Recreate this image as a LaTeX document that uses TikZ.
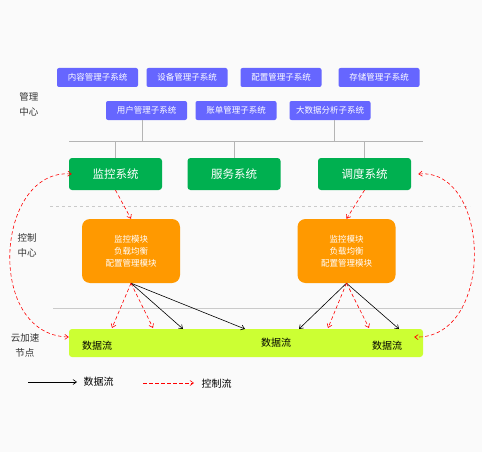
\documentclass[tikz,border=0pt]{standalone}
\usepackage{fontspec}
\setmainfont{Noto Sans CJK SC}
\usepackage{xcolor}
\usetikzlibrary{arrows.meta}
\definecolor{subblue}{HTML}{6666FF}
\definecolor{sysgreen}{HTML}{00B050}
\definecolor{modorange}{HTML}{FF9900}
\definecolor{nodelime}{HTML}{CCFF33}
\definecolor{bggray}{HTML}{FAFAFA}
\definecolor{linegray}{HTML}{B4B4B4}
\definecolor{labelgray}{HTML}{333333}

\begin{document}
\begin{tikzpicture}[x=1pt,y=-1pt,
    >={Straight Barb[length=3.5pt,width=5pt]},
    sub/.style={fill=subblue,text=white,rounded corners=2pt,minimum width=81pt,minimum height=19pt,inner sep=0pt,font=\fontsize{8.5}{9}\selectfont},
    sys/.style={fill=sysgreen,text=white,rounded corners=3pt,minimum width=93pt,minimum height=32pt,inner sep=0pt,font=\fontsize{11.5}{12}\selectfont},
    modbox/.style={fill=modorange,text=white,rounded corners=8pt,minimum width=98pt,minimum height=64pt,inner sep=0pt,align=center,font=\fontsize{8.5}{12}\selectfont},
    side/.style={text=labelgray,align=center,font=\fontsize{9.5}{15}\selectfont},
    ctrl/.style={red,dashed,dash pattern=on 3.5pt off 2.5pt,line width=0.6pt,->},
    data/.style={black,line width=0.6pt,->}]
    \useasboundingbox (0,0) rectangle (482,452);
    \fill[bggray] (0,0) rectangle (482,452);

    % management center
    \node[sub] (s1) at (97.5,77.5) {内容管理子系统};
    \node[sub] (s2) at (187,77.5) {设备管理子系统};
    \node[sub] (s3) at (281,77.5) {配置管理子系统};
    \node[sub] (s4) at (379,77.5) {存储管理子系统};
    \node[sub] (s5) at (146.5,110.5) {用户管理子系统};
    \node[sub] (s6) at (236,110.5) {账单管理子系统};
    \node[sub] (s7) at (330,110.5) {大数据分析子系统};
    \node[side] (lbm) at (29,104) {管理\\中心};

    \node[sys] (sysA) at (115.5,174) {监控系统};
    \node[sys] (sysB) at (234,174) {服务系统};
    \node[sys] (sysC) at (364.5,174) {调度系统};

    \coordinate (busL) at (69,141);
    \coordinate (busR) at (423,141);
    \draw[linegray,line width=0.8pt] (busL) -- (busR);
    \draw[linegray,line width=0.8pt] ([xshift=-4pt]s5.south) -- ([xshift=-4pt]s5.south |- busL);
    \draw[linegray,line width=0.8pt] ([xshift=4pt]s7.south) -- ([xshift=4pt]s7.south |- busL);
    \draw[linegray,line width=0.8pt] (sysA.north |- busL) -- (sysA.north);
    \draw[linegray,line width=0.8pt] (sysB.north |- busL) -- (sysB.north);
    \draw[linegray,line width=0.8pt] (sysC.north |- busL) -- (sysC.north);

    % separators
    \draw[linegray!70,dashed,line width=0.6pt] (50,206) -- (470,206);
    \draw[linegray!70,line width=0.6pt] (53,308) -- (463,308);

    % control center
    \node[side] (lbc) at (27,245.5) {控制\\中心};
    \node[modbox] (modA) at (131,251) {监控模块\\负载均衡\\配置管理模块};
    \node[modbox] (modB) at (346.5,251) {监控模块\\负载均衡\\配置管理模块};

    % cloud nodes
    \node[side] (lbn) at (25,345) {云加速\\节点};
    \node[fill=nodelime,rounded corners=3pt,minimum width=354pt,minimum height=28pt,inner sep=0pt] (bar) at (246,343) {};
    \node[font=\fontsize{10}{12}\selectfont] (f1) at (97,346) {数据流};
    \node[font=\fontsize{10}{12}\selectfont] (f2) at (276,343) {数据流};
    \node[font=\fontsize{10}{12}\selectfont] (f3) at (387,345.5) {数据流};

    \coordinate (a1) at (112,328);
    \coordinate (a2) at (153,328);
    \coordinate (a3) at (183,329);
    \coordinate (a4) at (245,329);
    \coordinate (b1) at (299,329);
    \coordinate (b2) at (328,328);
    \coordinate (b3) at (369,328);
    \coordinate (b4) at (399,329);

    \draw[ctrl] (sysA.south) -- (modA.north);
    \draw[ctrl] (sysC.south) -- (modB.north);

    \draw[data] (modA.south) -- (a3);
    \draw[data] (modA.south) -- (a4);
    \draw[ctrl] (modA.south) -- (a1);
    \draw[ctrl] (modA.south) -- (a2);

    \draw[data] (modB.south) -- (b1);
    \draw[data] (modB.south) -- (b4);
    \draw[ctrl] (modB.south) -- (b2);
    \draw[ctrl] (modB.south) -- (b3);

    \draw[ctrl,<->] ([xshift=3pt]sysA.west) .. controls (-5,168) and (-15,335) .. ([yshift=6pt]bar.west);
    \draw[ctrl,<->] ([xshift=7pt]sysC.east) .. controls (492,168) and (495,340) .. ([xshift=-9pt,yshift=6pt]bar.east);

    % legend
    \coordinate (lg1) at (28,382);
    \coordinate (lg2) at (77,382);
    \coordinate (lg3) at (143,383);
    \coordinate (lg4) at (194,383);
    \draw[data] (lg1) -- (lg2);
    \node[font=\fontsize{10}{12}\selectfont,anchor=west] (t1) at (80,382) {数据流};
    \draw[ctrl] (lg3) -- (lg4);
    \node[font=\fontsize{10}{12}\selectfont,anchor=west] (t2) at (198,384) {控制流};
\end{tikzpicture}
\end{document}
